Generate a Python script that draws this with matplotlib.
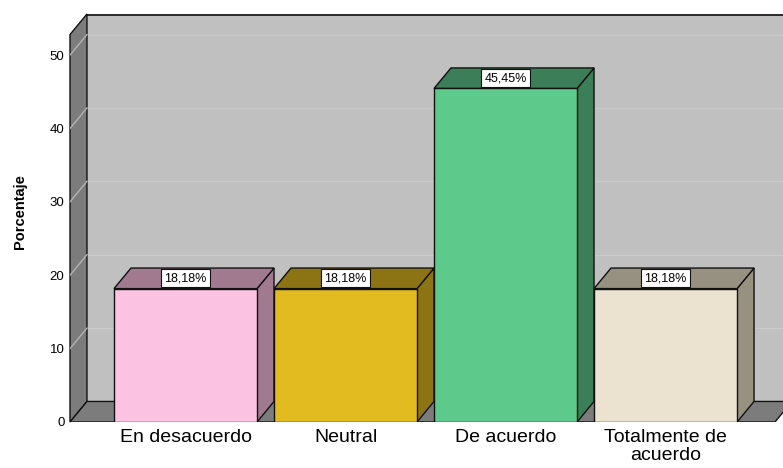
import matplotlib
matplotlib.use("Agg")
import matplotlib.pyplot as plt
from matplotlib.patches import Polygon, Rectangle

plt.rcParams["font.family"] = ["Liberation Sans", "DejaVu Sans"]

categories = ["En desacuerdo", "Neutral", "De acuerdo", "Totalmente de\nacuerdo"]
percentages = [18.18, 18.18, 45.45, 18.18]
y_ticks = [0, 10, 20, 30, 40, 50]

front_colors = ["#fcc2e1", "#e1bb20", "#5dc98b", "#ebe3cf"]
shade_colors = ["#a27a90", "#8c7414", "#3b7e58", "#979181"]

# depth of the pseudo-3D box (in data units along x and y)
DX = 0.106
DY = 2.8
X0 = -0.722
X_FLOOR_END = 3.684
X_MAX = 3.734
Y_MAX = 55.6
BAR_HALF = 0.447

fig = plt.figure(figsize=(7.83, 4.68), dpi=100)
ax = fig.add_axes([70 / 783, 46 / 468, (783 - 70) / 783, (422 - 14) / 468])
ax.set_xlim(X0, X_MAX)
ax.set_ylim(0, Y_MAX)
for s in ax.spines.values():
    s.set_visible(False)

wall_grey = "#c0c0c0"
side_grey = "#7c7c7c"
edge = "#111111"

# back wall
ax.add_patch(Rectangle((X0 + DX, DY), X_MAX - X0, Y_MAX - DY,
                       facecolor=wall_grey, edgecolor="none", zorder=1))
ax.plot([X0 + DX, X_MAX], [Y_MAX - 0.1, Y_MAX - 0.1], color=edge, lw=1.2, zorder=3)

# gridlines on back wall and left wall
for v in y_ticks[1:]:
    ax.plot([X0 + DX, X_MAX], [v + DY, v + DY], color="#cacaca", lw=1.0, zorder=2)

# left wall
ax.add_patch(Polygon([(X0, 0), (X0, Y_MAX - DY), (X0 + DX, Y_MAX),
                      (X0 + DX, DY)], closed=True, facecolor=side_grey,
                     edgecolor=edge, lw=1.0, zorder=3, clip_on=False))
for v in y_ticks[1:]:
    ax.plot([X0, X0 + DX], [v, v + DY], color="#b4b4b4", lw=1.0, zorder=4)

# floor
ax.add_patch(Polygon([(X0, 0), (X_FLOOR_END, 0), (X_FLOOR_END + DX, DY),
                      (X0 + DX, DY)], closed=True, facecolor=side_grey,
                     edgecolor=edge, lw=1.0, zorder=3))

# bars
for i, (val, fc, sc) in enumerate(zip(percentages, front_colors, shade_colors)):
    left = i - BAR_HALF
    right = i + BAR_HALF
    ax.add_patch(Polygon([(right, 0), (right + DX, DY), (right + DX, val + DY),
                          (right, val)], closed=True, facecolor=sc,
                         edgecolor=edge, lw=1.0, zorder=5))
    ax.add_patch(Polygon([(left, val), (left + DX, val + DY),
                          (right + DX, val + DY), (right, val)], closed=True,
                         facecolor=sc, edgecolor=edge, lw=1.0, zorder=5))
    ax.add_patch(Rectangle((left, 0), right - left, val, facecolor=fc,
                           edgecolor=edge, lw=1.0, zorder=6))
    label = f"{val:.2f}%".replace(".", ",")
    ax.text(i, val + DY / 2, label, ha="center", va="center", fontsize=9,
            zorder=7,
            bbox=dict(boxstyle="square,pad=0.25", facecolor="white",
                      edgecolor=edge, lw=0.8))

ax.set_yticks(y_ticks)
ax.set_yticklabels([str(t) for t in y_ticks], fontsize=9.5)
ax.set_xticks(range(len(categories)))
ax.set_xticklabels(categories, fontsize=14, linespacing=1.1)
ax.tick_params(axis="both", length=0)
ax.tick_params(axis="y", pad=4)
ax.tick_params(axis="x", pad=5)

fig.text(20 / 783, 1 - 212 / 468, "Porcentaje", rotation=90, ha="center",
         va="center", fontsize=10.5, fontweight="bold")

fig.savefig("out.png", dpi=100, facecolor="white")
